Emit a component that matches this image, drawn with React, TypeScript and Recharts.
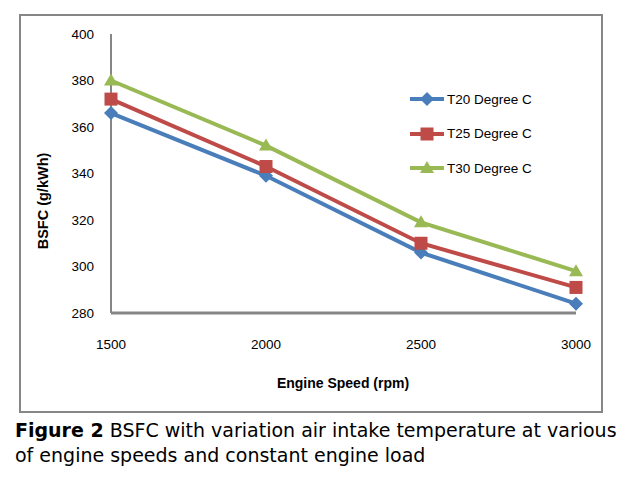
import React from "react";
import { LineChart, Line, XAxis, YAxis } from "recharts";

const speeds = [1500, 2000, 2500, 3000];
const t20 = [366, 339, 306, 284];
const t25 = [372, 343, 310, 291];
const t30 = [380, 352, 319, 298];
const yTicks = [280, 300, 320, 340, 360, 380, 400];
const seriesNames = ["T20 Degree C", "T25 Degree C", "T30 Degree C"];
const colors = ["#4A7EBB", "#BE4B48", "#98B954"];

const data = speeds.map((s, i) => ({ speed: s, t20: t20[i], t25: t25[i], t30: t30[i] }));

const FONT = "'Liberation Sans', Arial, sans-serif";

function marker(kind: number, cx: number, cy: number, color: string, key?: any) {
  if (kind === 0) {
    const r = 7;
    return (
      <path key={key} d={`M${cx},${cy - r} L${cx + r},${cy} L${cx},${cy + r} L${cx - r},${cy} Z`} fill={color} />
    );
  }
  if (kind === 1) {
    const h = 6.5;
    return <rect key={key} x={cx - h} y={cy - h} width={2 * h} height={2 * h} fill={color} />;
  }
  const w = 7;
  return (
    <path key={key} d={`M${cx},${cy - 7} L${cx + w},${cy + 5} L${cx - w},${cy + 5} Z`} fill={color} />
  );
}

const makeDot = (kind: number, color: string) => (props: any) => {
  const { cx, cy, index } = props;
  if (cx == null || cy == null) return <g key={index} />;
  return <g key={index}>{marker(kind, cx, cy, color)}</g>;
};

const LegendBox = () => (
  <div style={{ position: "absolute", left: 410, top: 82, fontFamily: FONT, fontSize: 13.5, color: "#000" }}>
    {seriesNames.map((n, i) => (
      <div key={n} style={{ display: "flex", alignItems: "center", height: 34.5 }}>
        <svg width={36} height={16} style={{ display: "block" }}>
          <line x1={0} y1={8} x2={34} y2={8} stroke={colors[i]} strokeWidth={4} />
          {marker(i, 17, 8, colors[i])}
        </svg>
        <span style={{ marginLeft: 1 }}>{n}</span>
      </div>
    ))}
  </div>
);

export default function App() {
  return (
    <div style={{ position: "absolute", left: 0, top: 0, width: 642, height: 488, background: "#fff" }}>
      <div
        style={{
          position: "absolute",
          left: 19,
          top: 14,
          width: 584,
          height: 399,
          border: "2px solid #868686",
          boxSizing: "border-box",
        }}
      />
      <div style={{ position: "absolute", left: 0, top: 0 }}>
        <LineChart width={642} height={488} data={data} margin={{ top: 34, right: 66, bottom: 145, left: 51 }}>
          <XAxis
            dataKey="speed"
            type="number"
            domain={[1500, 3000]}
            ticks={speeds}
            height={30}
            tickLine={false}
            tickSize={0}
            tickMargin={26}
            axisLine={{ stroke: "#868686", strokeWidth: 3 }}
            tick={{ fill: "#000", fontSize: 13.5, fontFamily: FONT }}
          />
          <YAxis
            type="number"
            domain={[280, 400]}
            ticks={yTicks}
            width={60}
            tickLine={false}
            tickSize={0}
            tickMargin={17}
            axisLine={{ stroke: "#868686", strokeWidth: 2 }}
            tick={{ fill: "#000", fontSize: 13.5, fontFamily: FONT }}
          />
          <Line
            name={seriesNames[0]}
            dataKey="t20"
            stroke={colors[0]}
            strokeWidth={4}
            dot={makeDot(0, colors[0])}
            activeDot={false}
            isAnimationActive={false}
          />
          <Line
            name={seriesNames[1]}
            dataKey="t25"
            stroke={colors[1]}
            strokeWidth={4}
            dot={makeDot(1, colors[1])}
            activeDot={false}
            isAnimationActive={false}
          />
          <Line
            name={seriesNames[2]}
            dataKey="t30"
            stroke={colors[2]}
            strokeWidth={4}
            dot={makeDot(2, colors[2])}
            activeDot={false}
            isAnimationActive={false}
          />
        </LineChart>
      </div>
      <LegendBox />
      <div
        style={{
          position: "absolute",
          left: 43,
          top: 201,
          transform: "translate(-50%, -50%) rotate(-90deg)",
          fontFamily: FONT,
          fontWeight: "bold",
          fontSize: 14.5,
          whiteSpace: "nowrap",
          color: "#000",
        }}
      >
        BSFC (g/kWh)
      </div>
      <div
        style={{
          position: "absolute",
          left: 343,
          top: 383,
          transform: "translate(-50%, -50%)",
          fontFamily: FONT,
          fontWeight: "bold",
          fontSize: 14,
          whiteSpace: "nowrap",
          color: "#000",
        }}
      >
        Engine Speed (rpm)
      </div>
      <div
        style={{
          position: "absolute",
          left: 15,
          top: 418,
          width: 627,
          fontFamily: "'DejaVu Sans', sans-serif",
          fontSize: 19,
          lineHeight: "25px",
          whiteSpace: "nowrap",
          color: "#000",
        }}
      >
        <b>Figure 2</b> BSFC with variation air intake temperature at various
        <br />
        of engine speeds and constant engine load
      </div>
    </div>
  );
}
